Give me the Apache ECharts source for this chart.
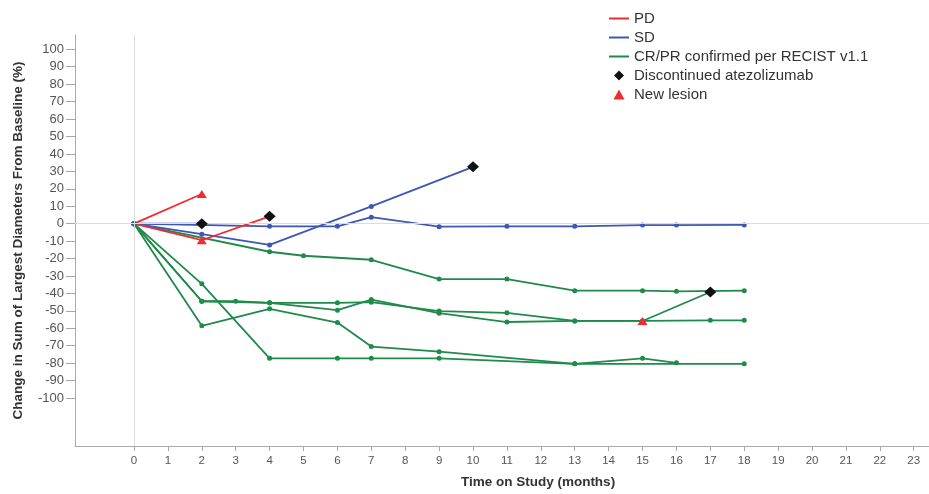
<!DOCTYPE html>
<html><head><meta charset="utf-8">
<script src="https://cdn.jsdelivr.net/npm/echarts@6/dist/echarts.min.js"></script>
<style>html,body{margin:0;padding:0;background:#fff}#c{width:929px;height:494px}</style>
</head><body><div id="c"></div>
<script>
// Tick labels
const xTicks = [0,1,2,3,4,5,6,7,8,9,10,11,12,13,14,15,16,17,18,19,20,21,22,23];
const yTicks = [-100,-90,-80,-70,-60,-50,-40,-30,-20,-10,0,10,20,30,40,50,60,70,80,90,100];

// Legend names
const namePD = 'PD';
const nameSD = 'SD';
const nameCR = 'CR/PR confirmed per RECIST v1.1';
const nameDisc = 'Discontinued atezolizumab';
const nameNew = 'New lesion';

// Patient trajectories: [month, % change]
const pd1 = [[0,0],[2,17]];
const pd2 = [[0,0],[2,-9.5],[4,4.2]];
const sd1 = [[0,0],[2,0]];
const sd2 = [[0,0],[4,-1.5],[6,-1.5],[7,3.7],[9,-1.7],[11,-1.5],[13,-1.5],[15,-0.8],[16,-0.8],[18,-0.7]];
const sd3 = [[0,0],[2,-6],[4,-12.2],[7,9.9],[10,32.6]];
const cr1 = [[0,0],[4,-16.1],[5,-18.4],[7,-20.7],[9,-31.8],[11,-31.8],[13,-38.4],[15,-38.4],[16,-38.8],[18,-38.4]];
const cr2 = [[0,0],[2,-34.5],[4,-77.2],[6,-77.2],[7,-77.2],[9,-77.2],[13,-80.4],[15,-77.2],[16,-79.8]];
const cr3 = [[0,0],[2,-44.5],[3,-44.5],[4,-45.4],[6,-45.4],[7,-45],[9,-50.1],[11,-51.1],[13,-55.8],[15,-55.8],[17,-55.4],[18,-55.4]];
const cr4 = [[0,0],[2,-44.5],[4,-45.4],[6,-49.6],[7,-43.5],[9,-51.3],[11,-56.4],[13,-55.8],[15,-55.8],[17,-39.2]];
const cr5 = [[0,0],[2,-58.6],[4,-48.8],[6,-56.7],[7,-70.5],[9,-73.4],[13,-80.4],[18,-80.4]];

// Event markers
const discontinued = [[2,0],[4,4.2],[10,32.6],[17,-39.2]];
const newLesion = [[2,17],[2,-9.5],[15,-55.8]];

const RED = '#ee2c34', BLUE = '#3c58b4', GREEN = '#1f8a4a', BLACK = '#111111';
const FONT = 'Liberation Sans, Arial, sans-serif';

function lineSeries(name, data, color, dots) {
  return {
    type: 'line', name: name, data: data, color: color,
    symbol: dots ? 'circle' : 'none', symbolSize: 5, showSymbol: dots,
    lineStyle: { width: 1.8, color: color }, itemStyle: { color: color, opacity: 1 },
    z: 3, animation: false, emphasis: { disabled: true }, silent: true
  };
}

const lineIcon = 'path://M0,0H20V2H0Z';
const chart = echarts.init(document.getElementById('c'), null, { renderer: 'canvas' });
chart.setOption({
  animation: false,
  backgroundColor: '#ffffff',
  textStyle: { fontFamily: FONT },
  grid: { left: 75, right: 0, top: 35, bottom: 43, containLabel: false },
  legend: {
    orient: 'vertical', left: 604, top: 6, itemWidth: 20, itemHeight: 10, itemGap: 4,
    textStyle: { fontSize: 15, color: '#333', fontFamily: FONT },
    selectedMode: false,
    data: [
      { name: namePD, icon: lineIcon },
      { name: nameSD, icon: lineIcon },
      { name: nameCR, icon: lineIcon },
      { name: nameDisc, icon: 'path://M5,0L10,5L5,10L0,5Z' },
      { name: nameNew, icon: 'path://M5,0L10,9L0,9Z' }
    ]
  },
  xAxis: {
    type: 'value', min: -1.74, max: 23.45,
    axisLine: { show: true, onZero: false, lineStyle: { color: '#a8a8a8' } },
    axisTick: { show: true, length: 5, customValues: xTicks, lineStyle: { color: '#a8a8a8' } },
    axisLabel: { customValues: xTicks, fontSize: 11.5, color: '#555', margin: 9 },
    splitLine: { show: false },
    name: 'Time on Study (months)', nameLocation: 'middle', nameGap: 29,
    nameTextStyle: { fontWeight: 'bold', fontSize: 13.5, color: '#333', padding: [0, 0, 0, 72] }
  },
  yAxis: {
    type: 'value', min: -127.5, max: 108.2,
    axisLine: { show: true, onZero: false, lineStyle: { color: '#a8a8a8' } },
    axisTick: { show: true, length: 9, customValues: yTicks, lineStyle: { color: '#a8a8a8' } },
    axisLabel: { customValues: yTicks, fontSize: 13, color: '#555', margin: 11 },
    splitLine: { show: false },
    name: 'Change in Sum of Largest Diameters From Baseline (%)', nameLocation: 'middle', nameGap: 50,
    nameTextStyle: { fontWeight: 'bold', fontSize: 13.5, color: '#333' }
  },
  series: [
    {
      type: 'line', name: 'ref', data: [], silent: true, z: 1,
      markLine: {
        silent: true, symbol: 'none', label: { show: false },
        lineStyle: { color: '#dcdcdc', type: 'solid', width: 1 },
        data: [{ xAxis: 0 }, { yAxis: 0 }]
      }
    },
    lineSeries(nameCR, cr1, GREEN, true),
    lineSeries(nameCR, cr2, GREEN, true),
    lineSeries(nameCR, cr3, GREEN, true),
    lineSeries(nameCR, cr4, GREEN, true),
    lineSeries(nameCR, cr5, GREEN, true),
    lineSeries(nameSD, sd1, BLUE, true),
    lineSeries(nameSD, sd2, BLUE, true),
    lineSeries(nameSD, sd3, BLUE, true),
    lineSeries(namePD, pd1, RED, false),
    lineSeries(namePD, pd2, RED, false),
    {
      type: 'scatter', name: nameDisc, data: discontinued, symbol: 'diamond', symbolSize: [12, 11],
      itemStyle: { color: BLACK, opacity: 1 }, z: 5, silent: true
    },
    {
      type: 'scatter', name: nameNew, data: newLesion, symbol: 'triangle', symbolSize: [10, 8],
      itemStyle: { color: RED, opacity: 1 }, z: 6, silent: true
    }
  ]
});
</script>
</body></html>
